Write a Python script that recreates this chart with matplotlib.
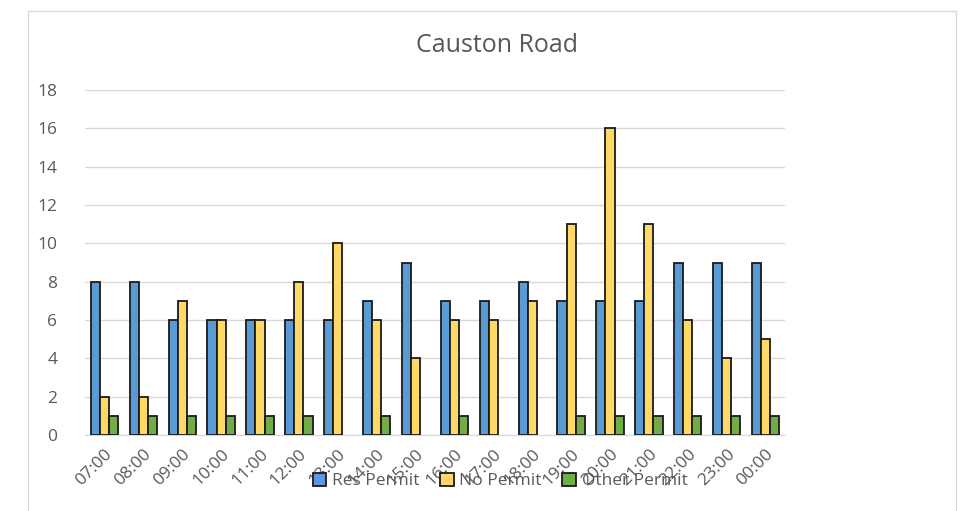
import numpy as np
import matplotlib.pyplot as plt
from matplotlib.patches import Rectangle

# Chart data
hours = ["07:00", "08:00", "09:00", "10:00", "11:00", "12:00", "13:00", "14:00", "15:00",
         "16:00", "17:00", "18:00", "19:00", "20:00", "21:00", "22:00", "23:00", "00:00"]
res_permit = [8, 8, 6, 6, 6, 6, 6, 7, 9, 7, 7, 8, 7, 7, 7, 9, 9, 9]
no_permit = [2, 2, 7, 6, 6, 8, 10, 6, 4, 6, 6, 7, 11, 16, 11, 6, 4, 5]
other_permit = [1, 1, 1, 1, 1, 1, 0, 1, 0, 1, 0, 0, 1, 1, 1, 1, 1, 1]

plt.rcParams['font.family'] = ['Open Sans', 'DejaVu Sans']

fig = plt.figure(figsize=(9.72, 5.11), dpi=100)
fig.patches.append(Rectangle((28 / 972, -0.05), (956 - 28) / 972, 1.05 - 11 / 511,
                             transform=fig.transFigure, fill=False,
                             edgecolor='#D9D9D9', linewidth=1))
ax = fig.add_axes([85 / 972, 1 - 435 / 511, 700 / 972, 345 / 511])

x = np.arange(len(hours))
w = 0.235
series = [(res_permit, "Res Permit", "#5B9BD5"),
          (no_permit, "No Permit", "#FFD966"),
          (other_permit, "Other Permit", "#70AD47")]
for i, (vals, name, col) in enumerate(series):
    bars = ax.bar(x + (i - 1) * w, vals, w, color=col, edgecolor='#1a1a1a',
                  linewidth=1.3, label=name, zorder=3)
    for b, v in zip(bars, vals):
        if v == 0:
            b.set_visible(False)

ax.set_xlim(-0.5, len(hours) - 0.5)
ax.set_ylim(0, 18)
ax.set_yticks(range(0, 19, 2))
ax.set_xticks(x)
ax.set_xticklabels(hours, rotation=45, ha='right', rotation_mode='anchor')
ax.tick_params(axis='both', length=0, labelsize=12.5, colors='#595959')
ax.tick_params(axis='x', pad=8)
ax.tick_params(axis='y', pad=20)
ax.grid(axis='y', color='#D9D9D9', linewidth=1, zorder=0)
for s in ['top', 'right', 'left']:
    ax.spines[s].set_visible(False)
ax.spines['bottom'].set_color('#D9D9D9')

fig.text(497 / 972, 1 - 45 / 511, "Causton Road", ha='center', va='center',
         fontsize=18, color='#595959')

fig.legend(loc='center', bbox_to_anchor=(500 / 972, 1 - 481 / 511), ncol=3,
           frameon=False, fontsize=12.5, labelcolor='#595959',
           handlelength=0.8, handleheight=0.8, handletextpad=0.3, columnspacing=1.2)

fig.savefig("out.png", dpi=100, facecolor='white')
